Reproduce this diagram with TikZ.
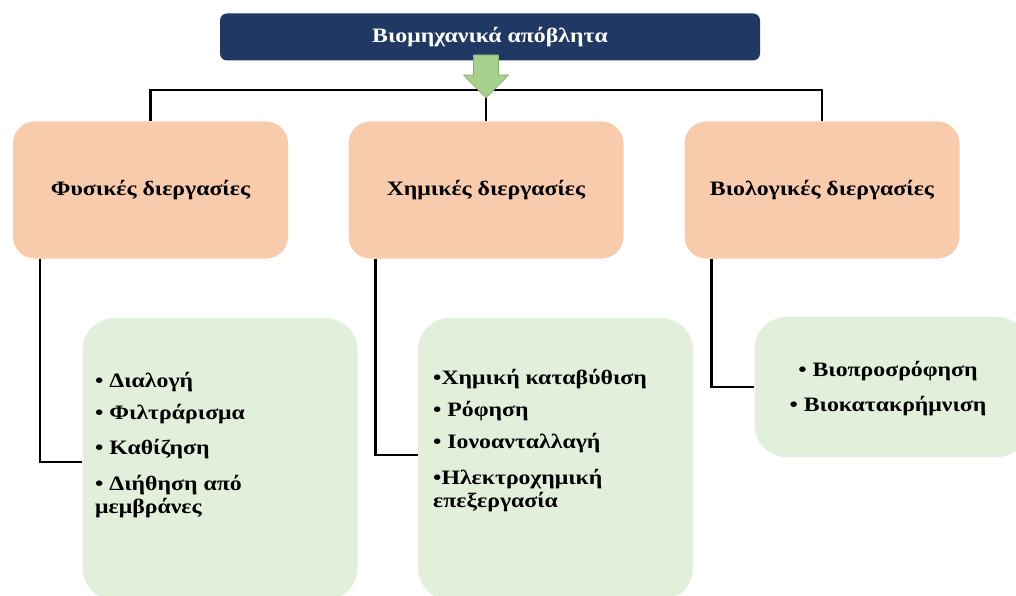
\documentclass[tikz,border=0pt]{standalone}
\usepackage{fontspec}
\setmainfont[FakeStretch=1.16]{Liberation Serif}
\definecolor{navy}{HTML}{1F3864}
\definecolor{peach}{HTML}{F8CBAD}
\definecolor{mint}{HTML}{E2EFDA}
\definecolor{leaf}{HTML}{A9D18E}
\definecolor{leafline}{HTML}{86AD68}
\begin{document}
\begin{tikzpicture}[x=1pt,y=-1pt,
  topbox/.style={fill=navy,rounded corners=7pt,minimum width=540pt,minimum height=47pt,
    text=white,font=\bfseries\fontsize{20.5}{23}\selectfont},
  procbox/.style={fill=peach,rounded corners=22pt,minimum width=275pt,minimum height=137pt,
    font=\bfseries\fontsize{20.5}{23}\selectfont},
  listbox/.style={fill=mint,rounded corners=32pt,minimum width=275pt},
  items/.style={inner sep=0pt,font=\bfseries\fontsize{20.5}{23}\selectfont},
  conn/.style={line width=2.6pt,black}]
\useasboundingbox (0,0) rectangle (1016,596);
\node[listbox,minimum height=282pt] (physlist) at (220,459) {};
\node[listbox,minimum height=282pt] (chemlist) at (555.5,459) {};
\node[listbox,minimum height=140pt] (biolist) at (892,387) {};
\node[items,anchor=north west,align=left] (physitems) at (95,372) {%
  • Διαλογή\\[9pt] • Φιλτράρισμα\\[12pt] • Καθίζηση\\[13pt] • Διήθηση από\\ μεμβράνες};
\node[items,anchor=north west,align=left] (chemitems) at (433,369) {%
  •Χημική καταβύθιση\\[9pt] • Ρόφηση\\[9pt] • Ιονοανταλλαγή\\[13pt] •Ηλεκτροχημική\\ επεξεργασία};
\node[items,align=center] (bioitems) at (888,389) {%
  • Βιοπροσρόφηση\\[12pt] • Βιοκατακρήμνιση};
\node[procbox] (phys) at (150.5,190) {Φυσικές διεργασίες};
\node[procbox] (chem) at (486,190) {Χημικές διεργασίες};
\node[procbox] (bio) at (822,190) {Βιολογικές διεργασίες};
\node[topbox] (waste) at (490,37) {Βιομηχανικά απόβλητα};
\coordinate (hub) at (486,90);
\draw[conn] (phys.north) |- (hub) -| (bio.north);
\draw[conn] (hub) -- (chem.north);
\draw[conn] ([xshift=27pt]phys.south west) |- ([yshift=-3pt]physlist.west);
\draw[conn] ([xshift=27pt]chem.south west) |- ([yshift=4pt]chemlist.west);
\draw[conn] ([xshift=27pt]bio.south west) |- (biolist.west);
\draw[fill=leaf,draw=leafline,line width=0.6pt] (473.5,55) -- (498.5,55) -- (498.5,75) -- (508.5,75)
  -- (486,98) -- (463.5,75) -- (473.5,75) -- cycle;
\end{tikzpicture}
\end{document}
